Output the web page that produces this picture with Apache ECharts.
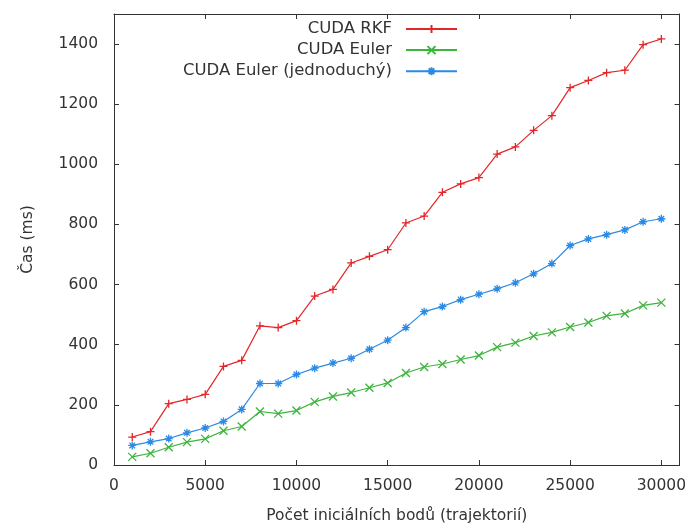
<!DOCTYPE html>
<html>
<head>
<meta charset="utf-8">
<script src="https://cdn.jsdelivr.net/npm/echarts@6/dist/echarts.min.js"></script>
<style>html,body{margin:0;padding:0;background:#fff}#c{width:689px;height:529px}</style>
</head>
<body>
<div id="c"></div>
<script>
const points = [1000,2000,3000,4000,5000,6000,7000,8000,9000,10000,11000,12000,13000,14000,15000,16000,17000,18000,19000,20000,21000,22000,23000,24000,25000,26000,27000,28000,29000,30000];
const rkf = [93,111,204,218,235,328,348,463,457,480,562,584,672,694,716,805,828,907,935,956,1034,1058,1113,1162,1255,1279,1305,1313,1398,1417];
const euler = [27,39,59,76,87,114,128,178,171,181,210,228,241,257,273,306,326,336,351,364,392,407,429,441,459,474,496,504,531,540];
const eulerSimple = [65,77,88,107,123,145,185,271,271,301,322,339,355,385,415,457,510,527,550,568,586,606,636,670,730,752,766,782,809,819];
const seriesNames = ['CUDA RKF','CUDA Euler','CUDA Euler (jednoduchý)'];
const xTitle = 'Počet iniciálních bodů (trajektorií)';
const yTitle = 'Čas (ms)';

const FONT = 'DejaVu Sans';
const FS = 15.5;
const colors = ['#e3262a','#3db43d','#2a8ae6'];
const symPlus = 'path://M5,0L5,10M0,5L10,5';
const symX = 'path://M0,0L10,10M10,0L0,10';
const symStar = 'path://M5,0L5,10M0,5L10,5M1.5,1.5L8.5,8.5M8.5,1.5L1.5,8.5';
const syms = [symPlus, symX, symStar];
const datas = [rkf, euler, eulerSimple];

const chart = echarts.init(document.getElementById('c'), null, {renderer:'canvas'});
const axisCommon = {
  axisLine:{show:true, onZero:false, lineStyle:{color:'#333', width:1}},
  axisTick:{show:true, inside:true, length:5, lineStyle:{color:'#333'}},
  splitLine:{show:false}
};
const plain = v => String(v);
chart.setOption({
  animation:false,
  backgroundColor:'#fff',
  textStyle:{fontFamily:FONT},
  grid:{left:114, right:9, top:14, bottom:64, show:false},
  legend:{
    orient:'vertical', align:'right', right:231, top:20.5, padding:0,
    itemWidth:51, itemHeight:10, itemGap:4.1,
    textStyle:{fontFamily:FONT, fontSize:16.5, color:'#333', lineHeight:10, padding:[0,9,0,0]},
    data:seriesNames
  },
  xAxis:[
    Object.assign({type:'value', min:0, max:31000, interval:5000, position:'bottom',
      name:xTitle, nameLocation:'middle', nameGap:43,
      nameTextStyle:{fontFamily:FONT, fontSize:FS, color:'#333'},
      axisLabel:{fontFamily:FONT, fontSize:FS, color:'#333', margin:13, showMaxLabel:false, formatter:plain}}, axisCommon),
    Object.assign({type:'value', min:0, max:31000, interval:5000, position:'top',
      axisLabel:{show:false}}, axisCommon)
  ],
  yAxis:[
    Object.assign({type:'value', min:0, max:1500, interval:200, position:'left',
      name:yTitle, nameLocation:'middle', nameGap:78, nameRotate:90,
      nameTextStyle:{fontFamily:FONT, fontSize:FS, color:'#333'},
      axisLabel:{fontFamily:FONT, fontSize:FS, color:'#333', margin:16, showMaxLabel:false, formatter:plain}}, axisCommon),
    Object.assign({type:'value', min:0, max:1500, interval:200, position:'right',
      axisLabel:{show:false}}, axisCommon)
  ],
  series: seriesNames.map((n,i)=>({
    name:n, type:'line', xAxisIndex:0, yAxisIndex:0,
    data: points.map((x,k)=>[x, datas[i][k]]),
    symbol: syms[i], symbolSize: 8, showAllSymbol:true,
    lineStyle:{color:colors[i], width:1.2},
    itemStyle:{color:colors[i], borderColor:colors[i], borderWidth:1.3},
    emphasis:{disabled:true}
  }))
});
</script>
</body>
</html>
